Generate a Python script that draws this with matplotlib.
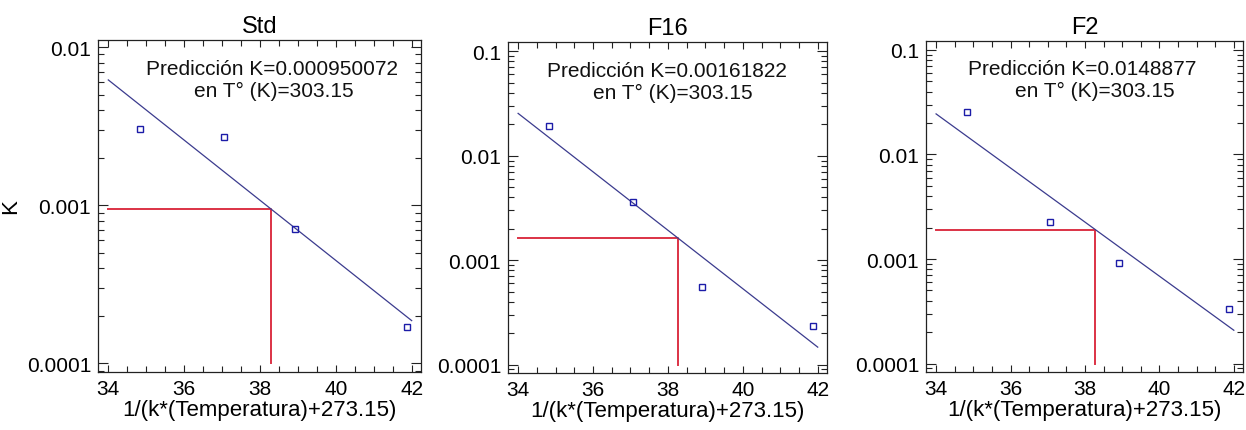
import numpy as np
import matplotlib
matplotlib.use("Agg")
import matplotlib.pyplot as plt
from matplotlib.ticker import LogLocator, NullFormatter, FixedLocator, MultipleLocator, FuncFormatter

plt.rcParams['font.family'] = ['Liberation Sans', 'DejaVu Sans']

# 1/(k*(T+273.15)) for each measured temperature
inv_kt = [34.83, 37.06, 38.92, 41.87]

# rate constants per formulation
k_std = [0.00306, 0.00271, 0.000709, 0.000169]
k_f16 = [0.0194, 0.00361, 0.000552, 0.000233]
k_f2 = [0.0253, 0.00227, 0.000912, 0.000330]

titles = ["Std", "F16", "F2"]
pred_labels = ["Predicción K=0.000950072", "Predicción K=0.00161822", "Predicción K=0.0148877"]
pred_temp_label = "en T° (K)=303.15"

# prediction abscissa: 1/(k*303.15)
x_pred = 38.28

xticks = [34, 36, 38, 40, 42]
x_range = (34, 42)

series = [k_std, k_f16, k_f2]
ylims = [(10 ** -4.053, 10 ** -1.956), (10 ** -4.078, 10 ** -0.914), (10 ** -4.078, 10 ** -0.914)]
yticks = [[0.0001, 0.001, 0.01], [0.0001, 0.001, 0.01, 0.1], [0.0001, 0.001, 0.01, 0.1]]
positions = [
    [0.0787, 0.1353, 0.2590, 0.7689],
    [0.4077, 0.1329, 0.2558, 0.7666],
    [0.7432, 0.1353, 0.2542, 0.7673],
]
text_x = [0.150, 0.121, 0.134]

fig = plt.figure(figsize=(12.46, 4.31), dpi=100)

line_col = "#3b3b8e"
mark_col = "#1c1ca8"
red_col = "#dc3245"

for i, (ks, title) in enumerate(zip(series, titles)):
    ax = fig.add_axes(positions[i])
    x = np.array(inv_kt)
    logk = np.log10(np.array(ks))
    slope, intercept = np.polyfit(x, logk, 1)

    # fitted regression line over the x range
    xf = np.linspace(x_range[0], x_range[1], 50)
    ax.plot(xf, 10 ** (slope * xf + intercept), color=line_col, lw=0.9, zorder=2)

    # prediction guide lines at the chosen temperature
    k_pred = 10 ** (slope * x_pred + intercept)
    ax.plot([x_range[0], x_pred, x_pred], [k_pred, k_pred, 0.0001],
            color=red_col, lw=1.4, zorder=1)

    ax.plot(x, ks, linestyle="none", marker="s", ms=4.5, mfc="none", mec=mark_col, mew=1.0, zorder=3)

    ax.set_yscale("log")
    ax.set_xlim(33.73, 42.24)
    ax.set_ylim(*ylims[i])
    ax.xaxis.set_major_locator(FixedLocator(xticks))
    ax.xaxis.set_minor_locator(MultipleLocator(0.5))
    ax.yaxis.set_major_locator(FixedLocator(yticks[i]))
    ax.yaxis.set_major_formatter(FuncFormatter(lambda v, p: f"{v:g}"))
    ax.yaxis.set_minor_locator(LogLocator(base=10, subs=np.arange(2, 10)))
    ax.yaxis.set_minor_formatter(NullFormatter())

    ax.tick_params(which="both", direction="in", top=True, right=True, color="#222222", width=0.8)
    ax.tick_params(axis="x", which="major", length=5, pad=5, labelsize=15)
    ax.tick_params(axis="x", which="minor", length=4)
    ax.tick_params(axis="y", which="major", length=7, pad=5, labelsize=15)
    ax.tick_params(axis="y", which="minor", length=4)
    for s in ax.spines.values():
        s.set_linewidth(0.9)
        s.set_color("#222222")

    ax.set_title(title, fontsize=17, pad=6)
    ax.set_xlabel("1/(k*(Temperatura)+273.15)", fontsize=16, labelpad=1)
    if i == 0:
        ax.set_ylabel("K", fontsize=16, labelpad=4)

    ax.text(text_x[i], 0.944, pred_labels[i], transform=ax.transAxes, ha="left", va="top",
            fontsize=15, color="#111111")
    ax.text(text_x[i] + 0.147, 0.878, pred_temp_label, transform=ax.transAxes, ha="left", va="top",
            fontsize=15, color="#111111")

fig.savefig("out.png", dpi=100)
